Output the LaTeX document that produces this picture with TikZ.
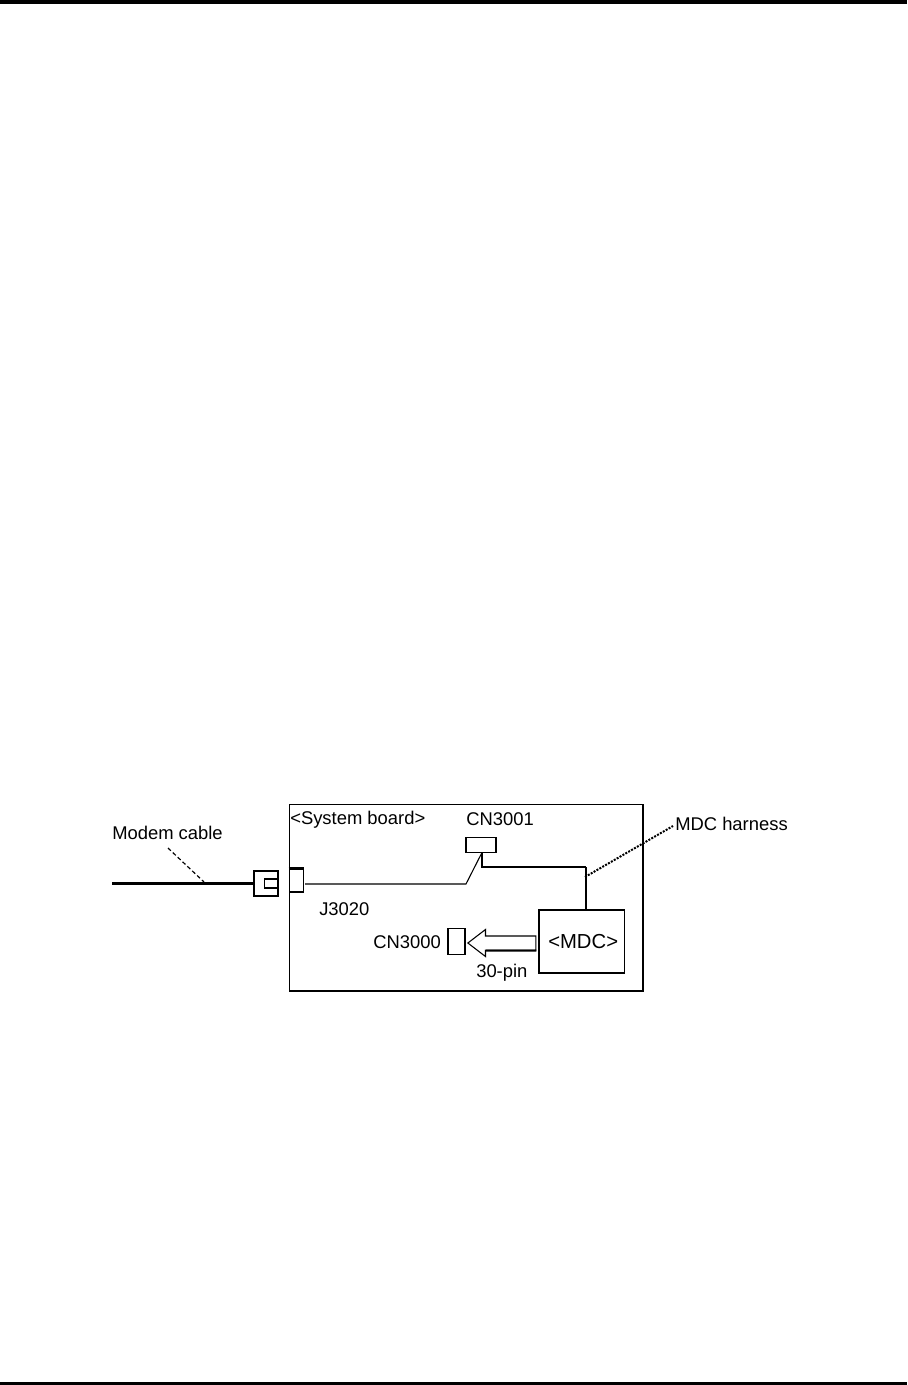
\documentclass[tikz,border=0pt]{standalone}
\usepackage{fontspec}
\setmainfont{Liberation Sans}
\usepackage{xcolor}
\usetikzlibrary{positioning,shapes.arrows}
\newcommand{\px}{0.75pt}
\tikzset{
  partbox/.style={draw, line width=0.8pt, fill=white, inner sep=0pt},
  lbl/.style={anchor=base west, inner sep=0pt, font=\fontsize{13.8}{15}\selectfont},
  wire/.style={line width=0.8pt},
}
\begin{document}
\begin{tikzpicture}[x=\px, y=-\px]
  \useasboundingbox (0,0) rectangle (907,1385);
  \fill[black] (0,0) rectangle (907,4);
  \fill[black] (0,1382) rectangle (907,1385);

  % board and the parts on it
  \node[partbox, minimum width=353.5*\px, minimum height=186.5*\px] (board) at (466.25,897.75) {};
  \node[partbox, minimum width=14.5*\px, minimum height=23*\px] (jack) at (296.5,880.5) {};
  \draw[line width=1.5pt] (jack.north west) -- (jack.north east);
  \node[partbox, minimum width=30*\px, minimum height=15*\px] (cnb) at (481,845) {};
  \node[partbox, minimum width=85.5*\px, minimum height=63*\px] (mdc) at (581.75,941.5) {};
  \node[partbox, line width=1.1pt, minimum width=17*\px, minimum height=26*\px] (cna) at (456.5,941.5) {};

  % plug on the cable
  \node[partbox, line width=1.4pt, minimum width=24.5*\px, minimum height=25*\px] (plug) at (266,883.5) {};
  \node[draw, line width=0.8pt, inner sep=0pt, minimum width=14.5*\px, minimum height=9*\px, anchor=east] (plugin) at (plug.east) {};

  % thick arrow, 30-pin link
  \node[draw, line width=0.8pt, fill=white, single arrow, shape border rotate=180, inner sep=0pt,
        text height=13*\px, text depth=0pt,
        minimum height=68*\px, single arrow head extend=6.5*\px,
        single arrow tip angle=75, anchor=tip] (pinarrow) at (467,943) {};
  \draw[line width=1.4pt] (pinarrow.before head) -- (pinarrow.after tail);

  % free ends
  \coordinate (cableend) at (112,883.5);
  \coordinate (cabletap) at (204,882);
  \coordinate (cablelbl) at (168,848);
  \coordinate (wireout) at (305,884);
  \coordinate (wirebend) at (466,884);
  \coordinate (cnbfoot) at (482,852.5);
  \coordinate (harbendl) at (482,867);
  \coordinate (harbendr) at (586,867);
  \coordinate (hartap) at (585,877);
  \coordinate (harlbl) at (673,826);

  \draw[line width=2.4pt] (cableend) -- (plug.west);
  \draw[line width=0.9pt, densely dashed] (cablelbl) -- (cabletap);
  \draw[wire] (wireout) -- (wirebend) -- (cnbfoot);
  \draw[line width=1pt] (cnbfoot) -- (harbendl) -- (harbendr);
  \draw[line width=1.5pt] (harbendr) -- (harbendr |- mdc.north);
  \draw[line width=1.5pt, densely dotted] (hartap) -- (harlbl);

  % labels
  \node[lbl] (lblcable) at (112,839) {Modem cable};
  \node[lbl] (lblboard) at (290,824.5) {<System board>};
  \node[lbl] (lblcnb) at (466,825) {CN3001};
  \node[lbl] (lblhar) at (675,830) {MDC harness};
  \node[lbl] (lbljack) at (319,915) {J3020};
  \node[lbl] (lblcna) at (373,948.5) {CN3000};
  \node[lbl, font=\fontsize{15.2}{16}\selectfont] (lblmdc) at (548,948.5) {<MDC>};
  \node[lbl] (lblpin) at (476,977) {30-pin};
\end{tikzpicture}
\end{document}
